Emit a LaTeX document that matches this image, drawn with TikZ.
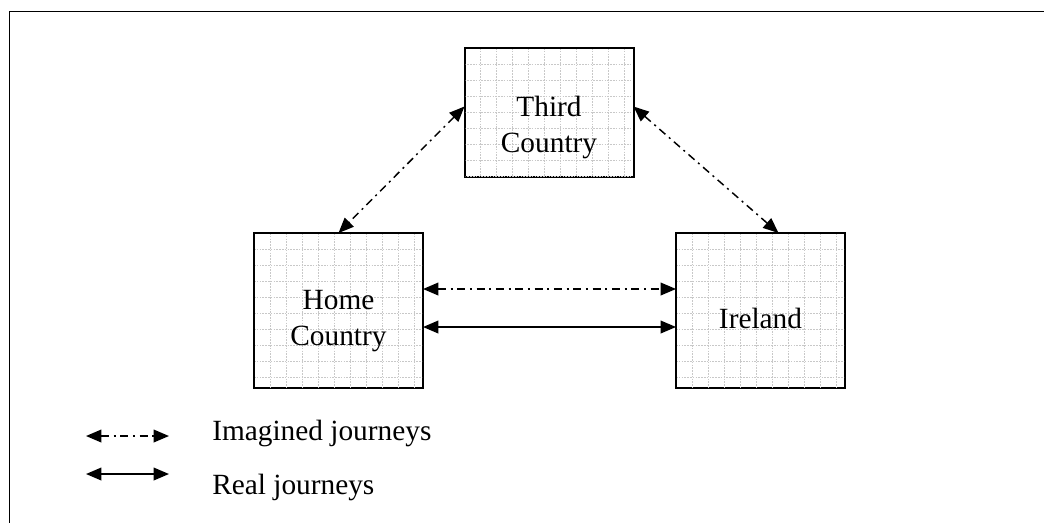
\documentclass[tikz,border=0pt]{standalone}
\usepackage{fontspec}
\setmainfont{Liberation Serif}
\usetikzlibrary{calc,arrows.meta}
\tikzset{>={Triangle[length=11.5pt,width=9.5pt]}}
\tikzset{
  box/.style={draw, line width=1.5pt, fill=white, outer sep=0pt, inner sep=0pt, minimum width=126.75pt},
  caption/.style={font=\fontsize{22}{27}\selectfont, align=center, inner sep=0pt},
  imagined/.style={<->, line width=1.1pt, dash pattern=on 6pt off 3.5pt on 1.5pt off 3.5pt},
  real/.style={<->, line width=1.1pt},
  gridline/.style={draw=gridgray, line width=0.5pt, dash pattern=on 1.2pt off 0.9pt}
}
% light dotted squares inside a box
\newcommand{\gridin}[1]{%
  \begin{scope}
    \clip ($(#1.north west)+(1,1)$) rectangle ($(#1.south east)+(-1,-1)$);
    \foreach \k in {1,...,11} {
      \draw[gridline] ($(#1.north west)+(\k*16,0)$) -- ++(0,170);
      \draw[gridline] ($(#1.north west)+(0,\k*16)$) -- ++(180,0);
    }
  \end{scope}}

\begin{document}
\begin{tikzpicture}[x=0.75pt,y=-0.75pt]
\definecolor{gridgray}{RGB}{200,200,200}
\useasboundingbox (0,0) rectangle (1044,522);
% outer frame, it runs off the page on the right and at the bottom
\draw[line width=1.2pt] (9.5,11.5) rectangle (1060,540);

% the three places
\node[box, minimum height=96.75pt] (third) at (549,112.5) {};
\node[box, minimum height=116.25pt] (home) at (338.5,310.5) {};
\node[box, minimum height=116.25pt] (ireland) at (760.5,310.5) {};
\gridin{third}
\gridin{home}
\gridin{ireland}

\node[caption] (thirdtxt) at (549,127) {Third\\Country};
\node[caption] (hometxt) at (338.5,321) {Home\\Country};
\node[caption, anchor=base] (irelandtxt) at (760.5,328) {Ireland};

% journeys between the places
\draw[imagined] ([yshift=4.5pt]third.west) -- (home.north);
\draw[imagined] ([yshift=4.5pt]third.east) -- ([xshift=13.5pt]ireland.north);
\draw[imagined] ([yshift=-42pt]home.north east) -- ([yshift=-42pt]ireland.north west);
\draw[real] ([yshift=-70.5pt]home.north east) -- ([yshift=-70.5pt]ireland.north west);

% key
\coordinate (imgL) at (86,436);
\coordinate (imgR) at (169,436);
\coordinate (realL) at (86,474);
\coordinate (realR) at (169,474);
\draw[imagined] (imgL) -- (imgR);
\draw[real] (realL) -- (realR);
\node[caption, anchor=base west] (imgkey) at (212,440) {Imagined journeys};
\node[caption, anchor=base west] (realkey) at (212,494) {Real journeys};
\end{tikzpicture}
\end{document}
